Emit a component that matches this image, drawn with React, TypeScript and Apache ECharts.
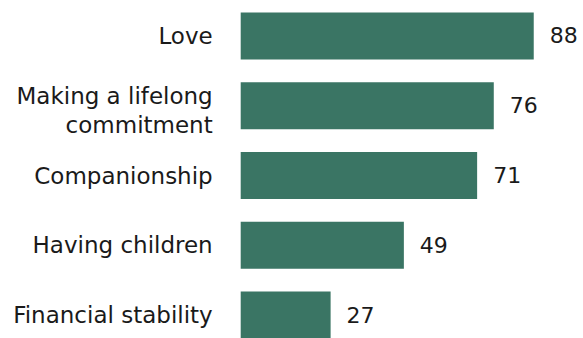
import React, { useEffect, useRef } from "react";
import * as echarts from "echarts";

const categories = [
  "Love",
  "Making a lifelong\ncommitment",
  "Companionship",
  "Having children",
  "Financial stability",
];
const values = [88, 76, 71, 49, 27];

export default function App() {
  const ref = useRef<HTMLDivElement>(null);
  useEffect(() => {
    document.body.style.margin = "0";
    const chart = echarts.init(ref.current!, null, { renderer: "svg" });
    const font = "'DejaVu Sans', Verdana, sans-serif";
    const tok = { fontSize: 23, lineHeight: 29, color: "#1a1a1a", fontFamily: font, align: "right" };
    chart.setOption({
      animation: false,
      grid: { left: 240.7, top: 1, width: 333, height: 349, containLabel: false },
      xAxis: {
        type: "value",
        min: 0,
        max: 100,
        show: false,
      },
      yAxis: {
        type: "category",
        data: categories,
        inverse: true,
        axisLine: { show: false },
        axisTick: { show: false },
        splitLine: { show: false },
        axisLabel: {
          margin: 28,
          fontSize: 23,
          lineHeight: 29,
          color: "#1a1a1a",
          fontFamily: font,
          align: "right",
          formatter: (v: string) =>
            v.includes("\n")
              ? "{s| }\n" + v.split("\n").map((s) => `{a|${s}}`).join("\n")
              : v,
          rich: {
            s: { fontSize: 1, lineHeight: 10, fontFamily: font },
            a: { ...tok },
          },
        },
      },
      series: [
        {
          type: "bar",
          data: values,
          barWidth: 47,
          itemStyle: { color: "#3a7564" },
          label: {
            show: true,
            position: "right",
            distance: 16,
            fontSize: 22,
            color: "#1a1a1a",
            fontFamily: font,
          },
        },
      ],
    });
    return () => chart.dispose();
  }, []);
  return (
    <div style={{ width: 583, height: 338, overflow: "hidden" }}>
      <div ref={ref} style={{ width: 583, height: 352 }} />
    </div>
  );
}
